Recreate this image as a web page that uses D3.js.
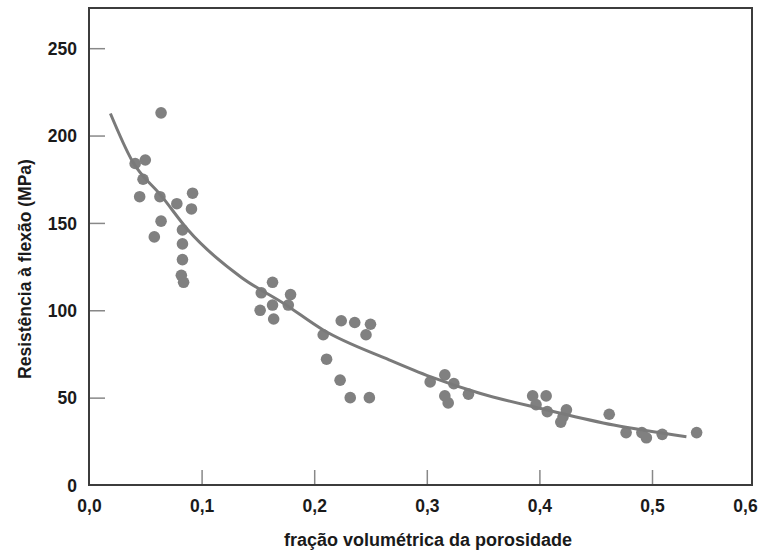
<!DOCTYPE html>
<html>
<head>
<meta charset="utf-8">
<script src="https://cdn.jsdelivr.net/npm/d3@7"></script>
<style>
  body { margin: 0; background: #fff; }
  svg { display: block; font-family: "Liberation Sans", Arial, sans-serif; }
</style>
</head>
<body>
<svg id="chart" width="761" height="553"></svg>
<script>
// porosity fraction / flexural strength (MPa)
const porosity = [
  0.064, 0.050, 0.041, 0.048, 0.045, 0.063, 0.078, 0.092, 0.091, 0.064,
  0.058, 0.083, 0.083, 0.083, 0.082, 0.084,
  0.163, 0.153, 0.179, 0.163, 0.177, 0.152, 0.164,
  0.224, 0.236, 0.250, 0.246, 0.208, 0.211, 0.223, 0.232, 0.249,
  0.303, 0.316, 0.324, 0.316, 0.319, 0.337,
  0.394, 0.406, 0.397, 0.407, 0.419, 0.421, 0.424, 0.462,
  0.477, 0.491, 0.495, 0.511, 0.548
];
const strength = [
  213, 186, 184, 175, 165, 165, 161, 167, 158, 151,
  142, 146, 138, 129, 120, 116,
  116, 110, 109, 103, 103, 100, 95,
  94, 93, 92, 86, 86, 72, 60, 50, 50,
  59, 63, 58, 51, 47, 52,
  51, 51, 46, 42, 36, 39, 43, 40.5,
  30, 30, 27, 29, 30
];

// fitted curve
const fitX = [0.019, 0.038, 0.065, 0.088, 0.136, 0.173, 0.208, 0.267, 0.303, 0.347, 0.407, 0.466, 0.537];
const fitY = [212.6, 185.9, 164.9, 145.9, 118.5, 103.9, 88.7, 71.5, 62, 52.5, 42.9, 34.3, 27.6];

const xTicks = [0, 0.1, 0.2, 0.3, 0.4, 0.5, 0.6];
const yTicks = [0, 50, 100, 150, 200, 250];

const svg = d3.select('#chart');
const plotL = 89, plotR = 752, plotT = 8, plotB = 485;

// the printed axis is a bit squeezed past 0,5
const x = d3.scaleLinear().domain([0, 0.5, 0.6]).range([plotL, 652, 745]);
const y = d3.scaleLinear().domain([0, 273]).range([plotB, plotT]);

const fmt = d3.formatLocale({ decimal: ',', thousands: '.', grouping: [3], currency: ['', ''] }).format('.1f');

// ticks (inward)
const xAxis = svg.append('g')
  .attr('transform', `translate(0,${plotB})`)
  .call(d3.axisBottom(x).tickValues(xTicks).tickSize(-15).tickFormat(fmt).tickPadding(0));
xAxis.select('.domain').remove();
xAxis.selectAll('.tick line').attr('stroke', '#888').attr('stroke-width', 1.5)
  .filter(d => d === 0 || d === 0.6).remove();
xAxis.selectAll('.tick text')
  .attr('y', 27).attr('dy', 0)
  .attr('fill', '#1a1a1a').attr('font-size', 17.5).attr('font-weight', 'bold');

const yAxis = svg.append('g')
  .attr('transform', `translate(${plotL},0)`)
  .call(d3.axisLeft(y).tickValues(yTicks).tickSize(-16).tickPadding(0));
yAxis.select('.domain').remove();
yAxis.selectAll('.tick line').attr('stroke', '#888').attr('stroke-width', 1.5)
  .filter(d => d === 0).remove();
yAxis.selectAll('.tick text')
  .attr('x', -12).attr('dy', '0.36em')
  .attr('fill', '#1a1a1a').attr('font-size', 17.5).attr('font-weight', 'bold');

// frame
svg.append('rect')
  .attr('x', plotL).attr('y', plotT)
  .attr('width', plotR - plotL).attr('height', plotB - plotT)
  .attr('fill', 'none').attr('stroke', '#3c3c3c').attr('stroke-width', 2);

// points
svg.append('g').selectAll('circle')
  .data(porosity.map((p, i) => ({ p, s: strength[i] })))
  .join('circle')
  .attr('cx', d => x(d.p))
  .attr('cy', d => y(d.s))
  .attr('r', 5.8)
  .attr('fill', '#808080');

// fit curve
const line = d3.line()
  .x(d => x(d[0]))
  .y(d => y(d[1]))
  .curve(d3.curveMonotoneX);
svg.append('path')
  .datum(fitX.map((v, i) => [v, fitY[i]]))
  .attr('d', line)
  .attr('fill', 'none')
  .attr('stroke', '#7a7a7a')
  .attr('stroke-width', 3);

// axis titles
svg.append('text')
  .attr('x', 428).attr('y', 546)
  .attr('text-anchor', 'middle')
  .attr('font-size', 18).attr('font-weight', 'bold').attr('fill', '#1a1a1a')
  .text('fração volumétrica da porosidade');

svg.append('text')
  .attr('transform', 'translate(31,269) rotate(-90)')
  .attr('text-anchor', 'middle')
  .attr('font-size', 17.5).attr('font-weight', 'bold').attr('fill', '#1a1a1a')
  .text('Resistência à flexão (MPa)');
</script>
</body>
</html>
